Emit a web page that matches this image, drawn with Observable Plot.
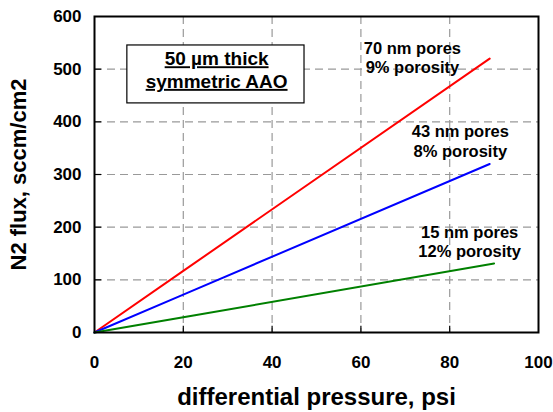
<!DOCTYPE html>
<html><head><meta charset="utf-8">
<script src="https://cdn.jsdelivr.net/npm/d3@7"></script>
<script src="https://cdn.jsdelivr.net/npm/@observablehq/plot@0.6"></script>
<style>
body{margin:0;background:#fff;}
svg{font-family:"Liberation Sans",Arial,sans-serif;}
</style>
</head><body><div id="chart"></div>
<script>
// Series (pressure psi -> flux sccm/cm2)
const series = ["70 nm", "43 nm", "15 nm"];
const colors = ["#ff0000", "#0000ff", "#008000"];
const pressure70 = [0, 20, 89];
const flux70 = [0, 117, 520];
const pressure43 = [0, 20, 89];
const flux43 = [0, 72, 320];
const pressure15 = [0, 20, 90];
const flux15 = [0, 29, 131];

const xTicks = [0, 20, 40, 60, 80, 100];
const yTicks = [0, 100, 200, 300, 400, 500, 600];

// annotation labels
const labelText = ["70 nm pores", "9% porosity", "43 nm pores", "8% porosity", "15 nm pores", "12% porosity"];
const labelX = [71.6, 71.6, 82.4, 82.4, 84.5, 84.5];
const labelY = [539, 502, 381, 344, 190, 154];

const boxText = ["50 µm thick", "symmetric AAO"];
const boxTextX = [27.5, 27.5];
const boxTextY = [519, 476];
const boxX = [7.4, 47.3];
const boxY = [435, 545];

const lines = [];
[[pressure70, flux70], [pressure43, flux43], [pressure15, flux15]].forEach(([p, f], i) => {
  p.forEach((v, j) => lines.push({series: series[i], pressure: v, flux: f[j]}));
});
const labels = labelText.map((t, i) => ({t, x: labelX[i], y: labelY[i]}));
const boxLabels = boxText.map((t, i) => ({t, x: boxTextX[i], y: boxTextY[i]}));

const plot = Plot.plot({
  width: 553, height: 412,
  marginLeft: 94, marginRight: 15, marginTop: 16, marginBottom: 80,
  style: {fontFamily: "Liberation Sans, Arial, sans-serif", background: "#fff"},
  x: {domain: [0, 100], ticks: xTicks},
  y: {domain: [0, 600], ticks: yTicks},
  color: {domain: series, range: colors},
  marks: [
    Plot.gridX(xTicks.slice(1, -1), {stroke: "#999", strokeOpacity: 1, strokeDasharray: "8,5", strokeWidth: 1.2}),
    Plot.gridY(yTicks.slice(1, -1), {stroke: "#999", strokeOpacity: 1, strokeDasharray: "8,5", strokeWidth: 1.2}),
    Plot.axisX(xTicks, {tickSize: 0, tickPadding: 23, fontSize: 17, fontWeight: "bold", fill: "#000",
      label: "differential pressure, psi", labelAnchor: "center", labelOffset: 72, labelArrow: "none"}),
    Plot.ruleX(xTicks.slice(1, -1), {y1: 0, y2: 12, stroke: "#000", strokeWidth: 1.2}),
    Plot.ruleY(yTicks.slice(1, -1), {x1: 0, x2: 1.6, stroke: "#000", strokeWidth: 1.2}),
    Plot.axisY(yTicks, {tickSize: 0, tickPadding: 13, fontSize: 17, fontWeight: "bold", fill: "#000",
      label: "N2 flux, sccm/cm2", labelAnchor: "center", labelOffset: 84, labelArrow: "none"}),
    Plot.rect([{}], {x1: boxX[0], x2: boxX[1], y1: boxY[0], y2: boxY[1], fill: "#fff", stroke: "#000", strokeWidth: 1.2}),
    Plot.text(boxLabels, {x: "x", y: "y", text: "t", fontSize: 19, fontWeight: "bold", fill: "#000", className: "underlined"}),
    Plot.line(lines, {x: "pressure", y: "flux", z: "series", stroke: "series", strokeWidth: 2}),
    Plot.text(labels, {x: "x", y: "y", text: "t", fontSize: 16.5, fontWeight: "bold", fill: "#000"}),
    Plot.frame({stroke: "#000", strokeWidth: 2})
  ]
});
document.getElementById("chart").appendChild(plot);
// axis label styling
d3.select(plot).selectAll("[aria-label='x-axis label'] text")
  .style("font-size", "24px").style("font-weight", "bold").attr("fill", "#000");
d3.select(plot).selectAll("[aria-label='y-axis label'] text")
  .style("font-size", "22px").style("font-weight", "bold").attr("fill", "#000");
d3.select(plot).selectAll(".underlined text").style("text-decoration", "underline");
</script>
</body></html>
